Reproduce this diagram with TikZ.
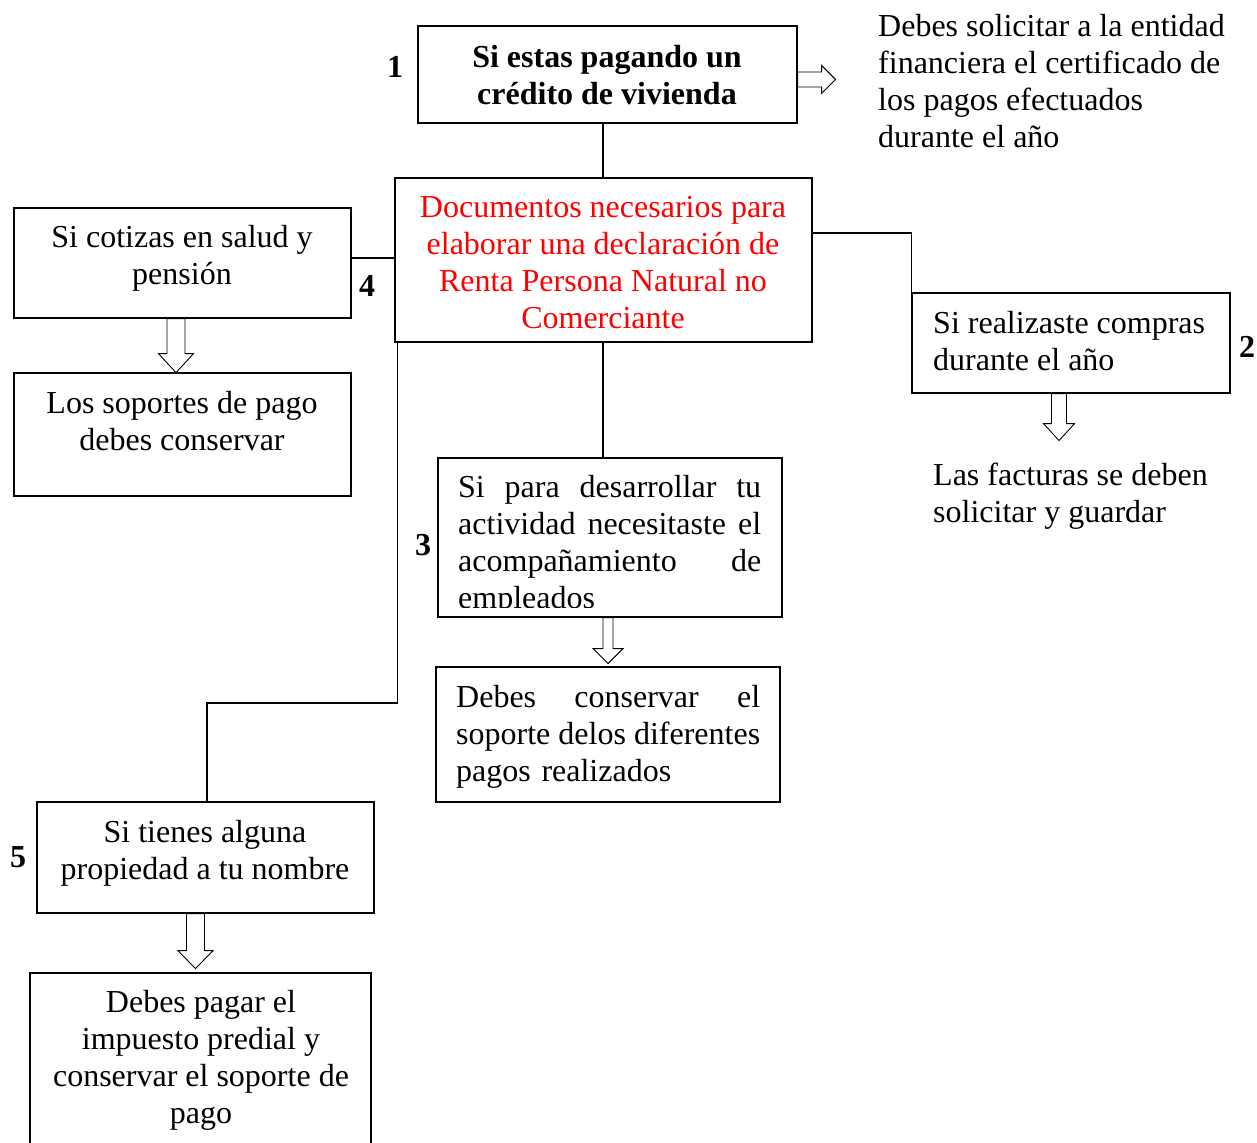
\documentclass[tikz,border=0pt]{standalone}
\usepackage{fontspec}
\setmainfont{Liberation Serif}
\usetikzlibrary{fit,calc}
\newcommand\fl{\rule{0pt}{24pt}}
\newcommand\jline[2]{\leavevmode\hbox to #1{#2}}
\newcommand\blkdown[5]{\draw[blk] (#1) ++(-#3,0) -- ++(0,{#2-#5}) -- ++({#3-#4},0) -- ++(#4,#5) -- ++(#4,-#5) -- ++({#3-#4},0) -- ++(0,{#5-#2}) -- cycle;}
\newcommand\blkright[5]{\draw[blk] (#1) ++(0,-#3) -- ++({#2-#5},0) -- ++(0,{#3-#4}) -- ++(#5,#4) -- ++(-#5,#4) -- ++(0,{#3-#4}) -- ++({#5-#2},0) -- cycle;}
\begin{document}
\begin{tikzpicture}[x=1pt,y=-1pt,
  box/.style={draw, line width=1.2pt, inner sep=0pt},
  txt/.style={inner sep=0pt, font=\fontsize{32}{37}\selectfont},
  ctxt/.style={txt, align=center, anchor=north},
  ltxt/.style={txt, align=left, anchor=north west},
  lab/.style={inner sep=0pt, font=\fontsize{32}{37}\selectfont\bfseries},
  con/.style={line width=1.5pt},
  blk/.style={draw, fill=white, line width=0.9pt, line join=miter}]
\clip (0,0) rectangle (1257,1142);
% boxes
\node[box, fit={(418,26) (797,123)}] (b1) {};
\node[box, fit={(395,178) (812,342)}] (cen) {};
\node[box, fit={(14,208) (351,318)}] (lb) {};
\node[box, fit={(14,373) (351,496)}] (ls) {};
\node[box, fit={(912,293) (1230,393)}] (rb) {};
\node[box, fit={(438,458) (782,617)}] (b3) {};
\node[box, fit={(436,667) (780,802)}] (b3s) {};
\node[box, fit={(37,802) (374,913)}] (b5) {};
\node[box, fit={(30,973) (371,1170)}] (b5s) {};
% texts
\node[ctxt, font=\fontsize{32}{37}\selectfont\bfseries] (t1) at (607,43) {\fl Si estas pagando un\\cr\'edito de vivienda};
\node[ltxt] (t1r) at (878,12) {\fl Debes solicitar a la entidad\\financiera el certificado de\\los pagos efectuados\\durante el a\~no};
\node[ctxt, text=red] (tc) at (603,193) {\fl Documentos necesarios para\\elaborar una declaraci\'on de\\Renta Persona Natural no\\Comerciante};
\node[ctxt] (tl) at (182,223) {\fl Si cotizas en salud y\\pensi\'on};
\node[ctxt] (tls) at (182,389) {\fl Los soportes de pago\\debes conservar};
\node[ltxt] (tr) at (933,309) {\fl Si realizaste compras\\durante el a\~no};
\node[ltxt] (trs) at (933,461) {\fl Las facturas se deben\\solicitar y guardar};
\begin{scope}
\clip (438,458) rectangle (782,607);
\node[ltxt, text width=303pt] (t3) at (458,473) {\fl\jline{303pt}{Si\hfill para\hfill desarrollar\hfill tu}\\\jline{303pt}{actividad\hfill necesitaste\hfill el}\\\jline{303pt}{acompa\~namiento\hfill de}\\empleados};
\end{scope}
\node[ltxt, text width=304pt] (t3s) at (456,683) {\fl\jline{304pt}{Debes\hfill conservar\hfill el}\\\jline{304pt}{soporte\hfill delos\hfill diferentes}\\pagos realizados};
\node[ctxt] (t5) at (205,818) {\fl Si tienes alguna\\propiedad a tu nombre};
\node[ctxt] (t5s) at (201,988) {\fl Debes pagar el\\impuesto predial y\\conservar el soporte de\\pago};
% labels
\node[lab] (n1) at (395,67) {1};
\node[lab] (n2) at (1247,347) {2};
\node[lab] (n3) at (423,545) {3};
\node[lab] (n4) at (367,286) {4};
\node[lab] (n5) at (18,857) {5};
% connectors
\draw[con] ([xshift=-0.5pt]cen.north) -- ([xshift=-0.5pt]cen.north |- b1.south);
\draw[con] ([yshift=5pt]lb.east) -- ([yshift=5pt]lb.east -| cen.west);
\draw[con] ([xshift=-0.5pt]cen.south) -- ([xshift=-0.5pt]cen.south |- b3.north);
\coordinate (k5) at (207,703);
\draw[con] ([xshift=3pt]cen.south west) |- (k5) -- (k5 |- b5.north);
\draw[con] ([yshift=27pt]cen.east) -| (rb.north west);
% hollow arrows
\blkright{[yshift=-5pt]b1.east}{38}{7.5}{14}{14}
\blkdown{[xshift=-6.5pt]lb.south}{54}{9}{17.5}{19}
\blkdown{[xshift=-2pt]b3.south}{46}{5}{15}{15}
\blkdown{[xshift=-10pt]b5.south}{55}{9}{17.5}{18}
\blkdown{[xshift=-12pt]rb.south}{47}{7.5}{15.5}{17}
\end{tikzpicture}
\end{document}
